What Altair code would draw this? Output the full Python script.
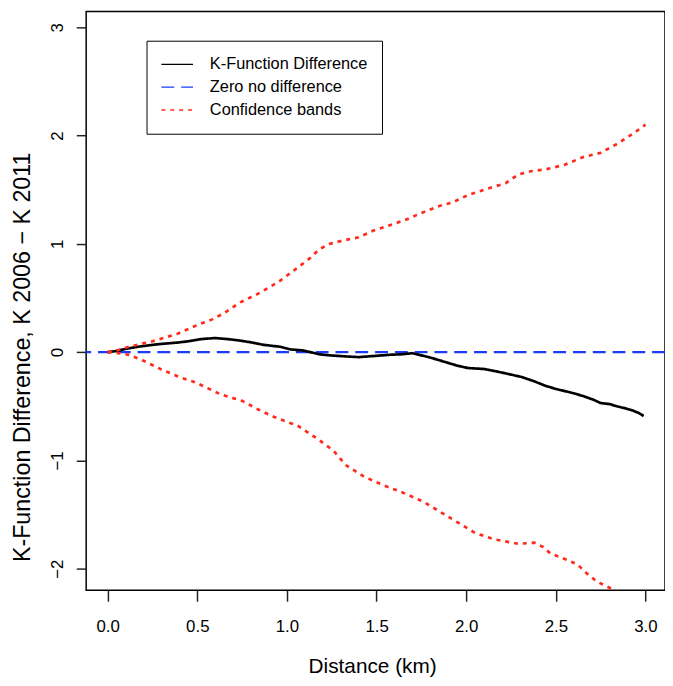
import altair as alt
import pandas as pd

# ---- data ----
k_x = [0, 0.05, 0.10, 0.17, 0.24, 0.30, 0.39, 0.45, 0.52, 0.60,
       0.67, 0.74, 0.80, 0.87, 0.96, 1.02, 1.09, 1.13, 1.18, 1.24,
       1.33, 1.40, 1.50, 1.57, 1.64, 1.70, 1.75, 1.79, 1.84, 1.90,
       1.95, 2.01, 2.10, 2.16, 2.23, 2.31, 2.38, 2.44, 2.50, 2.55,
       2.60, 2.66, 2.71, 2.75, 2.80, 2.84, 2.89, 2.93, 2.96, 2.99]
k_y = [0, 0.01, 0.03, 0.05, 0.065, 0.076, 0.088, 0.10, 0.12, 0.13,
       0.12, 0.106, 0.09, 0.067, 0.05, 0.025, 0.015, 0.0, -0.02, -0.03,
       -0.04, -0.046, -0.034, -0.025, -0.02, -0.01, -0.03, -0.046, -0.07, -0.10,
       -0.125, -0.147, -0.156, -0.175, -0.20, -0.23, -0.27, -0.31, -0.34, -0.36,
       -0.38, -0.41, -0.44, -0.47, -0.48, -0.50, -0.52, -0.54, -0.56, -0.59]

up_x = [0, 0.06, 0.12, 0.25, 0.39, 0.50, 0.58, 0.65, 0.74, 0.84,
        0.95, 1.06, 1.13, 1.18, 1.24, 1.31, 1.40, 1.48, 1.57, 1.66,
        1.75, 1.85, 1.92, 2.01, 2.12, 2.22, 2.29, 2.36, 2.45, 2.55,
        2.65, 2.75, 2.85, 2.95, 3.0]
up_y = [0, 0.02, 0.05, 0.10, 0.17, 0.25, 0.30, 0.36, 0.46, 0.54,
        0.645, 0.78, 0.87, 0.95, 1.00, 1.03, 1.06, 1.12, 1.17, 1.22,
        1.285, 1.35, 1.38, 1.45, 1.51, 1.56, 1.64, 1.67, 1.69, 1.73,
        1.80, 1.84, 1.93, 2.04, 2.10]

lo_x = [0, 0.06, 0.12, 0.20, 0.30, 0.40, 0.49, 0.63, 0.75, 0.84,
        0.93, 1.06, 1.17, 1.26, 1.33, 1.43, 1.54, 1.65, 1.76, 1.85,
        1.96, 2.05, 2.16, 2.29, 2.38, 2.43, 2.47, 2.55, 2.62, 2.67,
        2.73, 2.78, 2.83, 2.90, 3.0]
lo_y = [0, -0.01, -0.025, -0.08, -0.16, -0.23, -0.28, -0.39, -0.45, -0.53,
        -0.60, -0.68, -0.80, -0.91, -1.045, -1.15, -1.23, -1.30, -1.38, -1.47,
        -1.58, -1.67, -1.73, -1.77, -1.76, -1.80, -1.86, -1.91, -1.96, -2.04,
        -2.12, -2.16, -2.20, -2.27, -2.36]

names = ["K-Function Difference", "Zero no difference", "Confidence bands"]
colors = ["#000000", "#1a3cf5", "#ff2a1a"]
dashes = [[1, 0], [13, 7], [4, 5]]

x_ticks = [0, 0.5, 1.0, 1.5, 2.0, 2.5, 3.0]
y_ticks = [-2, -1, 0, 1, 2, 3]

FONT = "Liberation Sans"

rows = []
for x, y in zip(k_x, k_y):
    rows.append({"d": x, "v": y, "series": names[0], "part": "k"})
for x, y in zip(up_x, up_y):
    rows.append({"d": x, "v": y, "series": names[2], "part": "upper"})
for x, y in zip(lo_x, lo_y):
    rows.append({"d": x, "v": y, "series": names[2], "part": "lower"})
lines_df = pd.DataFrame(rows)
zero_df = pd.DataFrame({"v": [0.0], "series": [names[1]]})

xscale = alt.Scale(domain=[-0.12, 3.109], nice=False, zero=False)
yscale = alt.Scale(domain=[-2.2, 3.145], nice=False, zero=False)
cscale = alt.Scale(domain=names, range=colors)
dscale = alt.Scale(domain=names, range=dashes)

legend = alt.Legend(
    orient="none", legendX=61, legendY=29.5, title=None,
    strokeColor="black", fillColor="white", padding=14,
    labelFont=FONT, labelFontSize=16.5, labelColor="black", labelLimit=400,
    symbolType="stroke", symbolSize=1024, symbolStrokeWidth=1.3,
    labelOffset=16, rowPadding=3, clipHeight=20,
)

xaxis = alt.Axis(
    values=x_ticks, format=".1f", title="Distance (km)",
    labelFontSize=17, labelFont=FONT, labelColor="black",
    labelBaseline="alphabetic", labelPadding=31, tickSize=11,
    titleFont=FONT, titleFontSize=21, titleFontWeight="normal",
    titleColor="black", titleBaseline="alphabetic", titleAlign="center",
    titleX=289, titleY=83.5,
)
yaxis = alt.Axis(
    values=y_ticks, format="d", title="K-Function Difference, K 2006 \u2212 K 2011",
    labelFontSize=17, labelFont=FONT, labelColor="black",
    labelAngle=-90, labelAlign="center", labelBaseline="alphabetic",
    labelPadding=14, tickSize=10,
    titleFont=FONT, titleFontSize=23.5, titleFontWeight="normal",
    titleColor="black", titleAngle=-90, titleBaseline="alphabetic",
    titleAlign="center", titleX=-57, titleY=349,
)

lines = alt.Chart(lines_df).mark_line(clip=True, strokeCap="butt", strokeWidth=2.7).encode(
    x=alt.X("d:Q", scale=xscale, axis=xaxis),
    y=alt.Y("v:Q", scale=yscale, axis=yaxis),
    color=alt.Color("series:N", scale=cscale, legend=legend, sort=names),
    strokeDash=alt.StrokeDash("series:N", scale=dscale, legend=legend, sort=names),
    detail="part:N",
    order="d:Q",
)

zero = alt.Chart(zero_df).mark_rule(strokeWidth=2.5, clip=True).encode(
    y=alt.Y("v:Q", scale=yscale),
    color=alt.Color("series:N", scale=cscale, legend=legend, sort=names),
    strokeDash=alt.StrokeDash("series:N", scale=dscale, legend=legend, sort=names),
)

chart = alt.layer(zero, lines).resolve_scale(color="shared", strokeDash="shared").properties(
    width=585, height=585,
    autosize=alt.AutoSizeParams(type="none"),
    padding={"left": 79, "top": 0, "right": 0, "bottom": 85},
    background="white",
).configure_view(
    stroke="black", strokeWidth=1.5
).configure_axis(
    domain=False, grid=False, tickColor="#222222", tickWidth=1.5,
)

chart.save("out.html", embed_options={"renderer": "svg", "actions": False})
